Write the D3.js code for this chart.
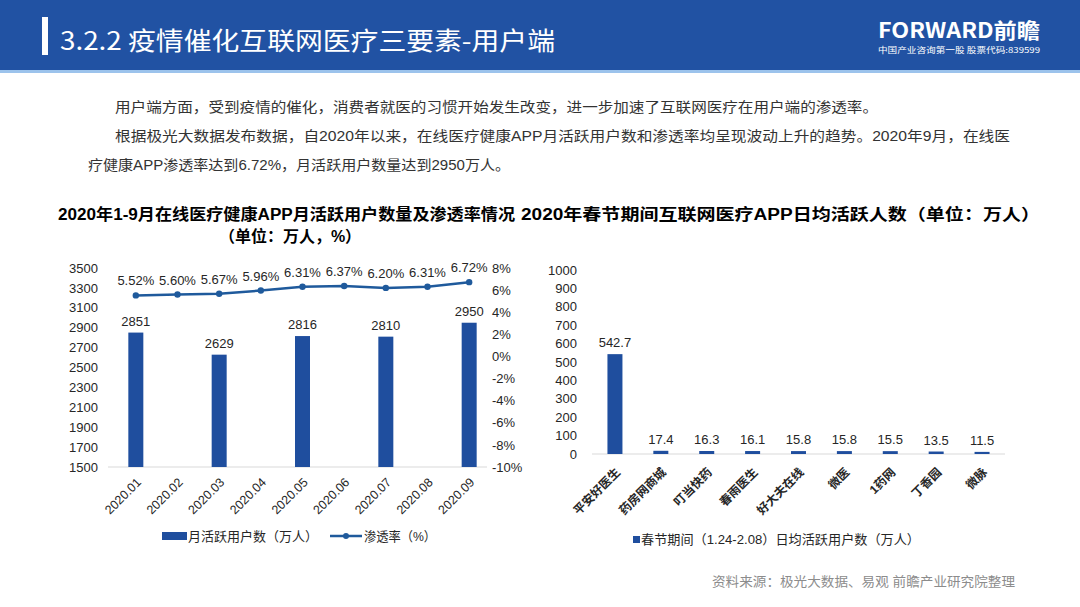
<!DOCTYPE html>
<html><head><meta charset="utf-8">
<script src="https://cdn.jsdelivr.net/npm/d3@7"></script>
<style>
body{margin:0;background:#fff;}
text{font-family:"Liberation Sans","Noto Sans CJK SC",sans-serif;}
.cjk{font-family:"Noto Sans CJK SC","Liberation Sans",sans-serif;}
</style></head>
<body><svg id="c" width="1080" height="607"></svg>
<script>
// ---- data ----
const months = ["2020.01","2020.02","2020.03","2020.04","2020.05","2020.06","2020.07","2020.08","2020.09"];
const mau = [2851,null,2629,null,2816,null,2810,null,2950];
const rate = [5.52,5.60,5.67,5.96,6.31,6.37,6.20,6.31,6.72];
const leftTicks = [1500,1700,1900,2100,2300,2500,2700,2900,3100,3300,3500];
const rightTicks = [-10,-8,-6,-4,-2,0,2,4,6,8];
const apps = ["平安好医生","药房网商城","叮当快药","春雨医生","好大夫在线","微医","1药网","丁香园","微脉"];
const dau = [542.7,17.4,16.3,16.1,15.8,15.8,15.5,13.5,11.5];
const dauTicks = [0,100,200,300,400,500,600,700,800,900,1000];

const svg = d3.select("#c");
const BAR = "#1F4E9E", LINE = "#1F5A9C", TXT = "#262626";

// header
svg.append("rect").attr("x",0).attr("y",0).attr("width",1080).attr("height",70).attr("fill","#2152A3");
svg.append("rect").attr("x",0).attr("y",70).attr("width",1080).attr("height",3).attr("fill","#9CC3EC");
svg.append("rect").attr("x",42).attr("y",17).attr("width",6).attr("height",38).attr("fill","#fff");
svg.append("text").attr("class","cjk").attr("x",60).attr("y",50).attr("fill","#fff")
  .attr("font-size",25).attr("textLength",495).attr("lengthAdjust","spacingAndGlyphs").text("3.2.2 疫情催化互联网医疗三要素-用户端");
svg.append("text").attr("x",878).attr("y",38).attr("fill","#fff").attr("font-size",21).attr("font-weight","bold")
  .attr("class","cjk").attr("textLength",162).attr("lengthAdjust","spacingAndGlyphs").text("FORWARD前瞻");
svg.append("text").attr("class","cjk").attr("x",878).attr("y",53).attr("fill","#fff").attr("font-size",8)
  .attr("textLength",162).attr("lengthAdjust","spacingAndGlyphs").text("中国产业咨询第一股 股票代码:839599");

// body text
const bodyLines = [
  [115,112,763,"用户端方面，受到疫情的催化，消费者就医的习惯开始发生改变，进一步加速了互联网医疗在用户端的渗透率。"],
  [115,141,895,"根据极光大数据发布数据，自2020年以来，在线医疗健康APP月活跃用户数和渗透率均呈现波动上升的趋势。2020年9月，在线医"],
  [88,170,422,"疗健康APP渗透率达到6.72%，月活跃用户数量达到2950万人。"]
];
bodyLines.forEach(d=>svg.append("text").attr("x",d[0]).attr("y",d[1]).attr("font-size",14).attr("fill","#333")
  .attr("textLength",d[2]).attr("lengthAdjust","spacingAndGlyphs").text(d[3]));

// titles
svg.append("text").attr("x",58).attr("y",220).attr("font-size",16).attr("font-weight","bold").attr("fill","#000")
  .attr("textLength",457).attr("lengthAdjust","spacingAndGlyphs").text("2020年1-9月在线医疗健康APP月活跃用户数量及渗透率情况");
svg.append("text").attr("x",290).attr("y",242).attr("font-size",16).attr("font-weight","bold").attr("fill","#000")
  .attr("text-anchor","middle").text("（单位：万人，%）");
svg.append("text").attr("x",521).attr("y",220).attr("font-size",16).attr("font-weight","bold").attr("fill","#000")
  .attr("textLength",519).attr("lengthAdjust","spacingAndGlyphs").text("2020年春节期间互联网医疗APP日均活跃人数（单位：万人）");

// ---- left chart ----
const x1 = d3.scaleBand().domain(months).range([115,490]).padding(0);
const yL = d3.scaleLinear().domain([1500,3500]).range([467,268]);
const yR = d3.scaleLinear().domain([-10,8]).range([467,268]);

const axL = svg.append("g").attr("transform","translate(100,0)")
  .call(d3.axisLeft(yL).tickValues(leftTicks).tickSize(0).tickPadding(2).tickFormat(d3.format("d")));
const axR = svg.append("g").attr("transform","translate(490,0)")
  .call(d3.axisRight(yR).tickValues(rightTicks).tickSize(0).tickPadding(2).tickFormat(d=>d+"%"));
[axL,axR].forEach(a=>{a.select(".domain").remove();a.selectAll("text").attr("font-size",13).attr("fill",TXT).attr("font-family","Liberation Sans");});

svg.append("line").attr("x1",108).attr("x2",487).attr("y1",467).attr("y2",467).attr("stroke","#d9d9d9");

const bw = 15;
const barData = months.map((m,i)=>({m,v:mau[i]})).filter(d=>d.v!=null);
svg.selectAll(".b1").data(barData).join("rect")
  .attr("x",d=>x1(d.m)+x1.bandwidth()/2-bw/2).attr("y",d=>yL(d.v))
  .attr("width",bw).attr("height",d=>yL(1500)-yL(d.v)).attr("fill",BAR);
svg.selectAll(".bl1").data(barData).join("text")
  .attr("x",d=>x1(d.m)+x1.bandwidth()/2).attr("y",d=>yL(d.v)-7).attr("text-anchor","middle")
  .attr("font-size",13).attr("fill",TXT).text(d=>d.v);

const lineData = months.map((m,i)=>({m,v:rate[i]}));
svg.append("path").datum(lineData)
  .attr("d",d3.line().x(d=>x1(d.m)+x1.bandwidth()/2).y(d=>yR(d.v)))
  .attr("fill","none").attr("stroke",LINE).attr("stroke-width",2.5);
svg.selectAll(".pt").data(lineData).join("circle")
  .attr("cx",d=>x1(d.m)+x1.bandwidth()/2).attr("cy",d=>yR(d.v)).attr("r",3.2).attr("fill",LINE);
svg.selectAll(".pl").data(lineData).join("text")
  .attr("x",d=>x1(d.m)+x1.bandwidth()/2).attr("y",d=>yR(d.v)-10).attr("text-anchor","middle")
  .attr("font-size",13).attr("fill",TXT).text(d=>d.v.toFixed(2)+"%");

svg.selectAll(".xl").data(months).join("text")
  .attr("transform",d=>`translate(${x1(d)+x1.bandwidth()/2+3},${480}) rotate(-45)`)
  .attr("text-anchor","end").attr("dy","0.35em").attr("font-size",12.5).attr("fill",TXT).text(d=>d);

// left legend
svg.append("rect").attr("x",162).attr("y",532).attr("width",25).attr("height",8).attr("fill",BAR);
svg.append("text").attr("x",188).attr("y",541).attr("font-size",13).attr("fill",TXT).text("月活跃用户数（万人）");
svg.append("line").attr("x1",330).attr("x2",362).attr("y1",536).attr("y2",536).attr("stroke",LINE).attr("stroke-width",2.5);
svg.append("circle").attr("cx",346).attr("cy",536).attr("r",3).attr("fill",LINE);
svg.append("text").attr("x",364).attr("y",541).attr("font-size",13).attr("fill",TXT)
  .attr("textLength",72).attr("lengthAdjust","spacingAndGlyphs").text("渗透率（%）");

// ---- right chart ----
const x2 = d3.scaleBand().domain(apps).range([592,1005]).padding(0);
const y2 = d3.scaleLinear().domain([0,1000]).range([454,270]);
const ax2 = svg.append("g").attr("transform","translate(579,0)")
  .call(d3.axisLeft(y2).tickValues(dauTicks).tickSize(0).tickPadding(2).tickFormat(d3.format("d")));
ax2.select(".domain").remove();
ax2.selectAll("text").attr("font-size",13).attr("fill",TXT).attr("font-family","Liberation Sans");
svg.append("line").attr("x1",592).attr("x2",1005).attr("y1",454).attr("y2",454).attr("stroke","#d9d9d9");

const dd = apps.map((a,i)=>({a,v:dau[i]}));
svg.selectAll(".b2").data(dd).join("rect")
  .attr("x",d=>x2(d.a)+x2.bandwidth()/2-bw/2).attr("y",d=>y2(d.v))
  .attr("width",bw).attr("height",d=>y2(0)-y2(d.v)).attr("fill",BAR);
svg.selectAll(".bl2").data(dd).join("text")
  .attr("x",d=>x2(d.a)+x2.bandwidth()/2).attr("y",d=>y2(d.v)-7).attr("text-anchor","middle")
  .attr("font-size",13).attr("fill",TXT).text(d=>d.v.toFixed(1));
svg.selectAll(".xl2").data(apps).join("text")
  .attr("transform",d=>`translate(${x2(d)+x2.bandwidth()/2+3},${470}) rotate(-45)`)
  .attr("text-anchor","end").attr("dy","0.35em").attr("font-size",12).attr("font-weight","bold").attr("fill",TXT).text(d=>d);

svg.append("rect").attr("x",633).attr("y",536).attr("width",7).attr("height",7).attr("fill",BAR);
svg.append("text").attr("x",641).attr("y",544).attr("font-size",13).attr("fill",TXT)
  .attr("textLength",279).attr("lengthAdjust","spacingAndGlyphs").text("春节期间（1.24-2.08）日均活跃用户数（万人）");

// source
svg.append("text").attr("x",712).attr("y",586).attr("font-size",13).attr("fill","#8c8c8c")
  .attr("textLength",303).attr("lengthAdjust","spacingAndGlyphs").text("资料来源：极光大数据、易观 前瞻产业研究院整理");
</script></body></html>
